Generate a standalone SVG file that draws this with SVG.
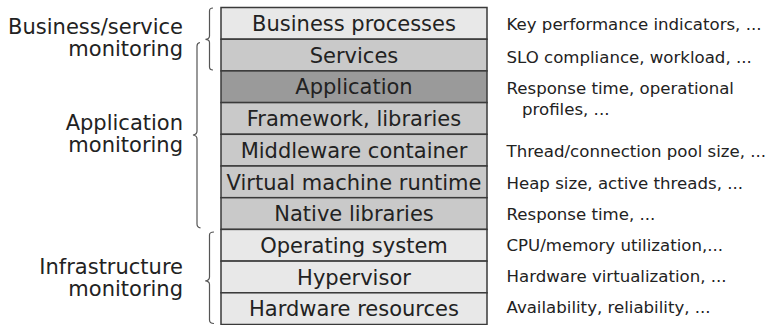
<svg xmlns="http://www.w3.org/2000/svg" width="774" height="325" viewBox="0 0 774 325">
  <style>
    .layer { stroke: #3a3a3a; stroke-width: 1.5; }
    .light { fill: #e8e8e8; }
    .mid { fill: #c9c9c9; }
    .dark { fill: #9a9a9a; }
    .lbl { font-family: "DejaVu Sans", sans-serif; font-size: 21px; fill: #222; text-anchor: middle; }
    .side { font-family: "DejaVu Sans", sans-serif; font-size: 21px; fill: #222; text-anchor: end; }
    .note { font-family: "DejaVu Sans", sans-serif; font-size: 16.6px; fill: #222; }
    .brace { fill: none; stroke: #555; stroke-width: 1.2; }
  </style>
  <rect width="774" height="325" fill="#fff"/>

  <!-- monitoring braces -->
  <g id="connectors">
    <path class="brace" d="M213 8 Q209.5 8 209.5 11 L209.5 36 Q209.5 39 205.5 39.3 Q209.5 39.6 209.5 42.5 L209.5 67 Q209.5 70 213 70"/>
    <path class="brace" d="M200 42.5 Q197 43 197 46 L197 131 Q197 134.5 193 135 Q197 135.5 197 139 L197 224 Q197 227.5 200.5 227.8"/>
    <path class="brace" d="M214 232 Q209.5 232 209.5 235 L209.5 277 Q209.5 280.5 205.3 280.8 Q209.5 281.1 209.5 284.5 L209.5 320 Q209.5 323.5 214 323.5"/>
  </g>

  <!-- left group labels -->
  <g id="business-monitoring">
    <text class="side" x="183" y="34">Business/service</text>
    <text class="side" x="183" y="56">monitoring</text>
  </g>
  <g id="application-monitoring">
    <text class="side" x="183" y="130">Application</text>
    <text class="side" x="183" y="152">monitoring</text>
  </g>
  <g id="infrastructure-monitoring">
    <text class="side" x="183" y="273.5">Infrastructure</text>
    <text class="side" x="183" y="295.5">monitoring</text>
  </g>

  <!-- layer stack -->
  <g id="business-processes">
    <rect class="layer light" x="221" y="7.5" width="266" height="31.7"/>
    <text class="lbl" x="354" y="31">Business processes</text>
  </g>
  <g id="services">
    <rect class="layer mid" x="221" y="39.2" width="266" height="31.7"/>
    <text class="lbl" x="354" y="62.7">Services</text>
  </g>
  <g id="application">
    <rect class="layer dark" x="221" y="70.9" width="266" height="31.7"/>
    <text class="lbl" x="354" y="94.4">Application</text>
  </g>
  <g id="framework">
    <rect class="layer mid" x="221" y="102.6" width="266" height="31.7"/>
    <text class="lbl" x="354" y="126.1">Framework, libraries</text>
  </g>
  <g id="middleware">
    <rect class="layer mid" x="221" y="134.3" width="266" height="31.7"/>
    <text class="lbl" x="354" y="157.8">Middleware container</text>
  </g>
  <g id="vm-runtime">
    <rect class="layer mid" x="221" y="166" width="266" height="31.7"/>
    <text class="lbl" x="354" y="189.5">Virtual machine runtime</text>
  </g>
  <g id="native-libraries">
    <rect class="layer mid" x="221" y="197.7" width="266" height="31.7"/>
    <text class="lbl" x="354" y="221.2">Native libraries</text>
  </g>
  <g id="operating-system">
    <rect class="layer light" x="221" y="229.4" width="266" height="31.7"/>
    <text class="lbl" x="354" y="252.9">Operating system</text>
  </g>
  <g id="hypervisor">
    <rect class="layer light" x="221" y="261.1" width="266" height="31.7"/>
    <text class="lbl" x="354" y="284.6">Hypervisor</text>
  </g>
  <g id="hardware">
    <rect class="layer light" x="221" y="292.8" width="266" height="31.7"/>
    <text class="lbl" x="354" y="316.3">Hardware resources</text>
  </g>

  <!-- metrics per layer -->
  <g id="metrics">
    <text class="note" x="506.5" y="30">Key performance indicators, ...</text>
    <text class="note" x="506.5" y="62.5">SLO compliance, workload, ...</text>
    <text class="note" x="506.5" y="94">Response time, operational</text>
    <text class="note" x="522" y="115">profiles, ...</text>
    <text class="note" x="506.5" y="157.3">Thread/connection pool size, ...</text>
    <text class="note" x="506.5" y="188.5">Heap size, active threads, ...</text>
    <text class="note" x="506.5" y="219.5">Response time, ...</text>
    <text class="note" x="506.5" y="250.7">CPU/memory utilization,...</text>
    <text class="note" x="506.5" y="281.7">Hardware virtualization, ...</text>
    <text class="note" x="506.5" y="312.7">Availability, reliability, ...</text>
  </g>
</svg>
